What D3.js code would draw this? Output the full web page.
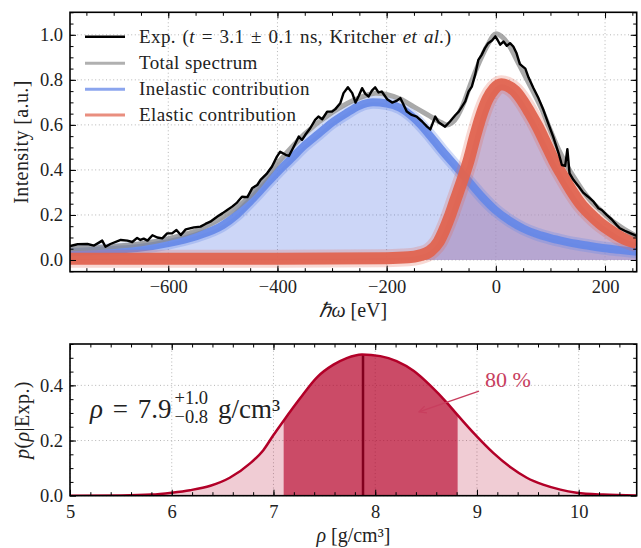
<!DOCTYPE html>
<html>
<head>
<meta charset="utf-8">
<script src="https://cdn.jsdelivr.net/npm/d3@7"></script>
<style>
body { margin: 0; background: #fff; }
text { font-family: "Liberation Serif", "Times New Roman", serif; fill: #222; }
</style>
</head>
<body>
<div id="chart"></div>
<script>
// ---- top panel: XRTS spectrum ----
var expE = [-780,-766,-748,-736,-727,-721,-715,-706,-687,-675,-666,-657,-651,-645,-638,-629,-620,-611,-602,-593,
  -585,-577,-568,-553,-541,-532,-523,-510,-501,-492,-483,-474,-465,-455,-446,-437,-431,-419,-410,-401,
  -395,-385,-379,-370,-361,-355,-349,-340,-331,-325,-318,-309,-300,-294,-285,-279,-271,-263,-257,-251,
  -245,-239,-233,-227,-221,-215,-209,-199,-190,-181,-175,-169,-163,-154,-145,-135,-126,-120,-111,-105,
  -93,-84,-74,-68,-62,-56,-50,-44,-38,-32,-26,-20,-14,-7,-1,3,8,14,20,26,
  32,38,44,54,60,69,78,87,96,105,115,121,127,131,135,142,151,160,169,179,
  188,194,203,212,221,227,236,246,258];
var expI = [0.062,0.070,0.071,0.064,0.077,0.086,0.059,0.071,0.089,0.086,0.080,0.098,0.089,0.095,0.086,0.110,0.100,0.096,0.118,0.118,
  0.133,0.111,0.136,0.145,0.148,0.160,0.170,0.193,0.207,0.222,0.237,0.255,0.281,0.279,0.320,0.333,0.356,0.385,0.415,0.459,
  0.481,0.467,0.462,0.504,0.548,0.533,0.556,0.585,0.622,0.637,0.625,0.659,0.659,0.670,0.696,0.741,0.767,0.741,0.699,0.729,
  0.763,0.738,0.726,0.752,0.767,0.744,0.748,0.714,0.699,0.708,0.719,0.689,0.659,0.644,0.637,0.615,0.592,0.580,0.637,0.612,
  0.592,0.615,0.644,0.659,0.681,0.704,0.748,0.770,0.822,0.889,0.911,0.941,0.963,0.975,0.993,0.978,0.956,0.970,0.951,0.963,
  0.948,0.918,0.870,0.850,0.810,0.763,0.719,0.667,0.607,0.548,0.474,0.422,0.418,0.492,0.385,0.356,0.329,0.299,0.281,0.259,
  0.230,0.222,0.200,0.181,0.156,0.141,0.130,0.119,0.107];

var totE = [-780,-700,-650,-600,-550,-500,-450,-400,-350,-300,-250,-220,-200,-175,-150,-125,-100,-90,-80,-70,
  -60,-45,-30,-15,0,12,25,40,55,70,85,100,115,130,145,160,175,190,210,230,258];
var totI = [0.05,0.06,0.072,0.095,0.13,0.19,0.285,0.43,0.56,0.655,0.72,0.74,0.735,0.715,0.68,0.645,0.61,0.60,0.61,0.64,
  0.69,0.79,0.88,0.955,1.005,0.99,0.95,0.88,0.81,0.74,0.665,0.575,0.49,0.42,0.36,0.305,0.26,0.225,0.18,0.145,0.105];

var inelE = [-780,-700,-650,-600,-550,-500,-475,-450,-425,-400,-375,-350,-325,-300,-275,-250,-225,-200,-175,-150,
  -125,-100,-75,-50,-25,0,25,50,75,100,125,150,175,200,225,258];
var inelI = [0.035,0.045,0.055,0.075,0.105,0.155,0.20,0.26,0.325,0.39,0.45,0.51,0.56,0.61,0.65,0.685,0.70,0.695,0.675,0.63,
  0.565,0.49,0.42,0.35,0.28,0.22,0.175,0.14,0.115,0.097,0.083,0.071,0.061,0.052,0.045,0.037];

var elE = [-780,-400,-200,-160,-140,-120,-105,-95,-85,-75,-62,-50,-38,-27,-15,-3,10,20,35,48,
  62,77,92,107,122,138,155,172,190,210,230,258];
var elI = [0.005,0.005,0.008,0.012,0.02,0.04,0.08,0.13,0.19,0.26,0.35,0.44,0.55,0.64,0.715,0.76,0.78,0.775,0.75,0.71,
  0.655,0.59,0.515,0.44,0.375,0.31,0.25,0.205,0.165,0.13,0.10,0.075];

var topXTicks = [-600,-400,-200,0,200];
var topYTicks = [0,0.2,0.4,0.6,0.8,1.0];

// ---- bottom panel: density posterior ----
var rho  = [5.0,5.5,5.8,6.0,6.18,6.38,6.57,6.77,6.9,7.0,7.1,7.26,7.43,7.59,7.72,7.87,8.05,8.21,8.38,8.54,
  8.71,8.81,8.98,9.16,9.33,9.49,9.65,9.82,9.98,10.24,10.57];
var dens = [0.0,0.001,0.004,0.011,0.02,0.036,0.065,0.117,0.165,0.22,0.272,0.352,0.43,0.475,0.499,0.512,0.506,0.488,0.452,0.40,
  0.335,0.292,0.222,0.155,0.103,0.065,0.04,0.022,0.011,0.004,0.001];
var rhoMode = 7.88, rhoModeDens = 0.512;
var rhoLo = 7.1, rhoHi = 8.81;
var botXTicks = [5,6,7,8,9,10];
var botYTicks = [0,0.2,0.4];

var W = 641, H = 548;
var svg = d3.select("#chart").append("svg").attr("width", W).attr("height", H);

var L = 70, R = 636.7;
var x1 = d3.scaleLinear().domain([-780,258]).range([L,R]);
var y1 = d3.scaleLinear().domain([-0.052,1.1]).range([271.7,12.3]);
var x2 = d3.scaleLinear().domain([5,10.57]).range([L,R]);
var y2 = d3.scaleLinear().domain([0,0.55]).range([495.7,344]);

function zip(a,b){ return a.map(function(v,i){ return [v,b[i]]; }); }

var defs = svg.append("defs");
function clip(id, x, y){
  defs.append("clipPath").attr("id", id).append("rect")
    .attr("x", x.range()[0]).attr("y", y.range()[1])
    .attr("width", x.range()[1]-x.range()[0]).attr("height", y.range()[0]-y.range()[1]);
}
clip("c1", x1, y1);
clip("c2", x2, y2);

function grid(g, x, y, xt, yt){
  var gg = g.append("g").attr("stroke","#b5b5b5").attr("stroke-width",1).attr("stroke-dasharray","1,2.6");
  gg.selectAll(".gx").data(xt).join("line")
    .attr("x1", function(d){return x(d);}).attr("x2", function(d){return x(d);})
    .attr("y1", y.range()[0]).attr("y2", y.range()[1]);
  gg.selectAll(".gy").data(yt).join("line")
    .attr("y1", function(d){return y(d);}).attr("y2", function(d){return y(d);})
    .attr("x1", x.range()[0]).attr("x2", x.range()[1]);
}

function axes(g, x, y, xt, xm, yt, ym, xfmt, yfmt, xpad){
  var yb = y.range()[0], ytop = y.range()[1], xl = x.range()[0], xr = x.range()[1];
  function put(axis, tr, labelled){
    var a = g.append("g").attr("transform", tr).call(axis);
    a.attr("font-size", null).attr("font-family", null);
    a.select(".domain").remove();
    a.selectAll("line").attr("stroke","#000").attr("stroke-width",1);
    if (labelled) a.selectAll("text").style("font-size","18.5px").attr("fill","#222");
    return a;
  }
  put(d3.axisBottom(x).tickValues(xt).tickSize(-6).tickPadding(xpad).tickFormat(xfmt), "translate(0,"+yb+")", true);
  put(d3.axisBottom(x).tickValues(xm).tickSize(-3.5).tickFormat(""), "translate(0,"+yb+")", false);
  put(d3.axisTop(x).tickValues(xt).tickSize(-6).tickFormat(""), "translate(0,"+ytop+")", false);
  put(d3.axisTop(x).tickValues(xm).tickSize(-3.5).tickFormat(""), "translate(0,"+ytop+")", false);
  put(d3.axisLeft(y).tickValues(yt).tickSize(-6).tickPadding(7).tickFormat(yfmt), "translate("+xl+",0)", true);
  put(d3.axisLeft(y).tickValues(ym).tickSize(-3.5).tickFormat(""), "translate("+xl+",0)", false);
  put(d3.axisRight(y).tickValues(yt).tickSize(-6).tickFormat(""), "translate("+xr+",0)", false);
  put(d3.axisRight(y).tickValues(ym).tickSize(-3.5).tickFormat(""), "translate("+xr+",0)", false);
  g.append("rect").attr("x", xl).attr("y", ytop).attr("width", xr-xl).attr("height", yb-ytop)
    .attr("fill","none").attr("stroke","#000").attr("stroke-width",1.6);
}

// ================= top panel =================
var g1 = svg.append("g");
grid(g1, x1, y1, topXTicks, topYTicks);

var data1 = g1.append("g").attr("clip-path","url(#c1)");
var lineS = d3.line().x(function(d){return x1(d[0]);}).y(function(d){return y1(d[1]);}).curve(d3.curveMonotoneX);
var areaS = d3.area().x(function(d){return x1(d[0]);}).y0(y1(0)).y1(function(d){return y1(d[1]);}).curve(d3.curveMonotoneX);

var inel = zip(inelE, inelI), el = zip(elE, elI), tot = zip(totE, totI), ex = zip(expE, expI);

data1.append("path").attr("d", areaS(inel)).attr("fill","rgb(65,105,225)").attr("fill-opacity",0.27);
data1.append("path").attr("d", areaS(el)).attr("fill","rgb(172,142,190)").attr("fill-opacity",0.67);

// inelastic band
data1.append("path").attr("d", lineS(inel)).attr("fill","none").attr("stroke","rgb(100,135,232)").attr("stroke-width",13).attr("stroke-opacity",0.3);
data1.append("path").attr("d", lineS(inel)).attr("fill","none").attr("stroke","rgb(100,135,232)").attr("stroke-width",8).attr("stroke-opacity",0.9);
// elastic band
data1.append("path").attr("d", lineS(el)).attr("fill","none").attr("stroke","rgb(226,104,84)").attr("stroke-width",18).attr("stroke-opacity",0.25);
data1.append("path").attr("d", lineS(el)).attr("fill","none").attr("stroke","rgb(224,100,80)").attr("stroke-width",12).attr("stroke-opacity",0.95);
// total
data1.append("path").attr("d", lineS(tot)).attr("fill","none").attr("stroke","rgb(140,140,140)").attr("stroke-width",5).attr("stroke-opacity",0.75);
// experiment
data1.append("path").attr("d", d3.line().x(function(d){return x1(d[0]);}).y(function(d){return y1(d[1]);})(ex))
  .attr("fill","none").attr("stroke","#000").attr("stroke-width",2.4).attr("stroke-linejoin","round");

var xm1 = d3.range(-750, 251, 50), ym1 = d3.range(-0.05, 1.101, 0.05);
axes(g1, x1, y1, topXTicks, xm1, topYTicks, ym1, d3.format("d"), d3.format(".1f"), 8);

// legend
var legend = [
  {color:"#000", op:1, w:2.5},
  {color:"rgb(150,150,150)", op:0.75, w:3},
  {color:"rgb(100,135,232)", op:0.75, w:3},
  {color:"rgb(226,104,84)", op:0.75, w:3}
];
var legY = [36.7, 63.3, 89.3, 115];
var lg = g1.append("g");
legend.forEach(function(d,i){
  lg.append("line").attr("x1",85).attr("x2",125).attr("y1",legY[i]).attr("y2",legY[i])
    .attr("stroke",d.color).attr("stroke-opacity",d.op).attr("stroke-width",d.w);
});
function legText(i){
  return lg.append("text").attr("x",139).attr("y",legY[i]+6)
    .style("font-size","19px").style("letter-spacing","0.4px");
}
var t0 = legText(0).style("word-spacing","1.5px");
t0.append("tspan").text("Exp.  (");
t0.append("tspan").style("font-style","italic").text("t");
t0.append("tspan").text(" = 3.1 ± 0.1 ns, Kritcher ");
t0.append("tspan").style("font-style","italic").text("et al.");
t0.append("tspan").text(")");
legText(1).text("Total spectrum");
legText(2).text("Inelastic contribution");
legText(3).text("Elastic contribution");

// axis labels
var xl1 = g1.append("text").attr("x",(L+R)/2).attr("y",317).attr("text-anchor","middle").style("font-size","20px");
xl1.append("tspan").style("font-style","italic").text("ℏω");
xl1.append("tspan").text(" [eV]");
g1.append("text").attr("transform","translate(28,142) rotate(-90)").attr("text-anchor","middle")
  .style("font-size","20px").style("letter-spacing","0.4px").text("Intensity [a.u.]");

// ================= bottom panel =================
var g2 = svg.append("g");
grid(g2, x2, y2, botXTicks, botYTicks);
var data2 = g2.append("g").attr("clip-path","url(#c2)");
var post = zip(rho, dens);
var inner = post.filter(function(d){ return d[0] >= rhoLo - 1e-9 && d[0] <= rhoHi + 1e-9; });
var area2 = d3.area().x(function(d){return x2(d[0]);}).y0(y2(0)).y1(function(d){return y2(d[1]);}).curve(d3.curveMonotoneX);
var line2 = d3.line().x(function(d){return x2(d[0]);}).y(function(d){return y2(d[1]);}).curve(d3.curveMonotoneX);
data2.append("path").attr("d", area2(post)).attr("fill","rgb(180,0,40)").attr("fill-opacity",0.2);
data2.append("path").attr("d", area2(inner)).attr("fill","rgb(180,0,40)").attr("fill-opacity",0.63);
data2.append("line").attr("x1",x2(rhoMode)).attr("x2",x2(rhoMode)).attr("y1",y2(0)).attr("y2",y2(rhoModeDens))
  .attr("stroke","rgb(130,0,30)").attr("stroke-width",2.5);
data2.append("path").attr("d", line2(post)).attr("fill","none").attr("stroke","rgb(178,0,40)").attr("stroke-width",2.5);

var xm2 = d3.range(5.2, 10.57, 0.2), ym2 = d3.range(0.05, 0.551, 0.05);
axes(g2, x2, y2, botXTicks, xm2, botYTicks, ym2, d3.format("d"), d3.format(".1f"), 9);

// annotation: credible interval
var ann = g2.append("text").attr("x",90).attr("y",418).style("font-size","27px").style("word-spacing","3px");
ann.append("tspan").style("font-style","italic").text("ρ");
ann.append("tspan").text(" = 7.9");
var aw = ann.node().getComputedTextLength();
var sx = 90 + aw + 3;
var sup = g2.append("text").attr("x",sx).attr("y",404).style("font-size","18.5px").text("+1.0");
var sub = g2.append("text").attr("x",sx).attr("y",423).style("font-size","18.5px").text("−0.8");
var sw = Math.max(sup.node().getComputedTextLength(), sub.node().getComputedTextLength());
g2.append("text").attr("x",sx+sw+10).attr("y",418).style("font-size","27px").text("g/cm³");

// 80 % arrow
var pc = "rgb(200,62,94)";
defs.append("marker").attr("id","arr").attr("viewBox","0 0 10 10").attr("refX",9).attr("refY",5)
  .attr("markerWidth",9).attr("markerHeight",9).attr("markerUnits","userSpaceOnUse").attr("orient","auto")
  .append("path").attr("d","M1,1 L9,5 L1,9").attr("fill","none").attr("stroke",pc).attr("stroke-width",1.3);
g2.append("line").attr("x1",x2(9.02)).attr("y1",y2(0.379)).attr("x2",x2(8.43)).attr("y2",y2(0.304))
  .attr("stroke",pc).attr("stroke-width",1.5).attr("marker-end","url(#arr)");
g2.append("text").attr("x",x2(9.08)).attr("y",y2(0.395)).style("font-size","22px").style("fill",pc).text("80 %");

var xl2 = g2.append("text").attr("x",(L+R)/2).attr("y",542).attr("text-anchor","middle").style("font-size","20px");
xl2.append("tspan").style("font-style","italic").text("ρ");
xl2.append("tspan").text(" [g/cm³]");
var yl2 = g2.append("text").attr("transform","translate(29,420) rotate(-90)").attr("text-anchor","middle")
  .style("font-size","20px").style("letter-spacing","0.4px");
yl2.append("tspan").style("font-style","italic").text("p");
yl2.append("tspan").text("(");
yl2.append("tspan").style("font-style","italic").text("ρ");
yl2.append("tspan").text("|Exp.)");
</script>
</body>
</html>
